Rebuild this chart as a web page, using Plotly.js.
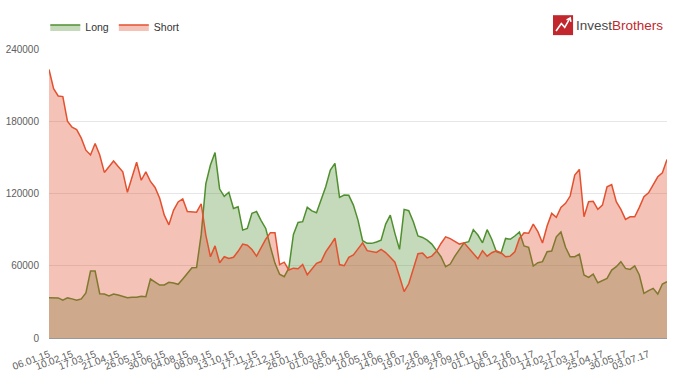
<!DOCTYPE html>
<html>
<head>
<meta charset="utf-8">
<script src="https://cdn.plot.ly/plotly-3.0.1.min.js"></script>
<style>
  html, body { margin: 0; padding: 0; background: #ffffff; }
  #chart { width: 680px; height: 382px; }
</style>
</head>
<body>
<div id="chart"></div>
<script>
// Weekly positions (index 0 = 06.01.15); every fifth week is labelled
const tickLabels = ["06.01.15","10.02.15","17.03.15","21.04.15","26.05.15","30.06.15","04.08.15",
  "08.09.15","13.10.15","17.11.15","22.12.15","26.01.16","01.03.16","05.04.16","10.05.16",
  "14.06.16","19.07.16","23.08.16","27.09.16","01.11.16","06.12.16","10.01.17","14.02.17",
  "21.03.17","25.04.17","30.05.17","03.07.17"];

const longValues = [
  33500,33300,33300,31500,33300,32500,31300,32500,37400,55600,
  55600,36800,36500,35000,36500,35700,34600,33500,33800,33800,
  34600,34300,49000,46800,44000,44000,46200,45700,44600,49000,
  53700,58400,58600,86000,128000,143600,154000,123700,117600,121000,
  107600,109000,89600,91000,103500,105000,97500,91000,75800,62000,
  53000,50900,58000,86000,96000,96600,108500,105500,104000,114500,
  125600,139400,145000,116800,118700,118500,110400,97900,80800,78600,
  78600,79700,81300,94600,102000,86900,73600,106800,105700,96600,
  84700,83500,81300,78000,73000,67500,59200,61400,68000,74000,
  79000,80000,90000,85500,79000,90000,82000,71600,70300,82700,
  82000,84700,88000,76400,75300,59800,62500,63400,71600,72200,
  84000,88000,75300,67500,67500,69700,52300,50400,53100,45900,
  47600,49500,56400,59200,63400,57800,57000,59800,52300,37100,
  39300,41200,36500,44800,46800
];

const shortValues = [
  223000,207000,201000,200500,180000,175000,173000,166000,156000,152000,
  161500,152000,137500,142000,147000,142500,138000,121000,134000,146000,
  131000,138000,130000,125000,116000,102000,94000,106000,113000,115500,
  105000,105000,104500,111500,85500,67500,76500,62500,67500,66000,
  67000,72000,78000,77000,73500,68000,75000,82000,87500,87500,
  61000,63000,56500,58000,57500,61000,52500,57500,62000,63500,
  71500,77000,83000,61000,60000,67000,69000,74000,79000,72500,
  72000,71000,73500,71000,67000,63000,51000,38500,45000,57000,
  70000,70500,66500,68000,72000,78500,84000,82500,80000,78000,
  79000,74500,70800,65800,72500,68000,70800,72500,70800,67500,
  68000,71600,82700,87400,87000,94600,88300,78900,93000,103500,
  100200,108500,111800,117900,135300,140000,100700,113200,113500,106800,
  110400,125600,127500,113200,106800,98500,100700,100700,108500,117300,
  120600,127500,133900,137200,148300
];

const yTicks = [0, 60000, 120000, 180000, 240000];

const xIdx = longValues.map((_, i) => i);
const tickVals = tickLabels.map((_, i) => i * 5);

const font = "'Liberation Sans', Arial, sans-serif";

const traces = [
  {
    x: xIdx, y: longValues, name: "Long", type: "scatter", mode: "lines",
    fill: "tozeroy", fillcolor: "rgba(80,140,50,0.33)",
    line: { color: "#4f8f2f", width: 1.5 }, hoverinfo: "skip"
  },
  {
    x: xIdx, y: shortValues, name: "Short", type: "scatter", mode: "lines",
    fill: "tozeroy", fillcolor: "rgba(226,76,48,0.34)",
    line: { color: "#e4512f", width: 1.5 }, hoverinfo: "skip"
  }
];

const layout = {
  width: 680, height: 382,
  margin: { l: 49, r: 13, t: 49, b: 44, pad: 0 },
  paper_bgcolor: "#ffffff", plot_bgcolor: "#ffffff",
  font: { family: font, size: 10, color: "#606060" },
  showlegend: true,
  legend: {
    orientation: "h", x: -0.006, xanchor: "left", y: 1.076, yanchor: "middle",
    font: { family: font, size: 10.5, color: "#333333" },
    itemwidth: 30, tracegroupgap: 0, bgcolor: "rgba(0,0,0,0)"
  },
  xaxis: {
    range: [0, xIdx.length - 1], showgrid: false, zeroline: false,
    showline: true, linecolor: "#9a9a9a", linewidth: 1,
    tickmode: "array", tickvals: tickVals, ticktext: tickLabels,
    tickangle: -20, ticks: "", ticklabelstandoff: 6,
    tickfont: { family: font, size: 10, color: "#606060" }
  },
  yaxis: {
    range: [0, 240000], showgrid: true, gridcolor: "#e6e6e6", gridwidth: 1,
    zeroline: false, showline: false,
    tickmode: "array", tickvals: yTicks, ticktext: yTicks.map(String),
    ticks: "", ticklabelstandoff: 9,
    tickfont: { family: font, size: 10, color: "#606060" }
  },
  shapes: [
    { type: "rect", xref: "paper", yref: "paper", x0: 0.8155, x1: 0.848, y0: 1.048, y1: 1.117,
      fillcolor: "#c1272d", line: { width: 0 } },
    { type: "path", xref: "paper", yref: "paper",
      path: "M 0.8205 1.062 L 0.829 1.088 L 0.8345 1.075 L 0.8425 1.105",
      line: { color: "#ffffff", width: 1.6 } },
    { type: "path", xref: "paper", yref: "paper",
      path: "M 0.8375 1.101 L 0.8435 1.108 L 0.8445 1.094",
      line: { color: "#ffffff", width: 1.4 } }
  ],
  annotations: [
    { xref: "paper", yref: "paper", x: 0.849, y: 1.082, xanchor: "left", yanchor: "middle",
      showarrow: false,
      text: "<span style='color:#4a4a4a'>Invest</span><span style='color:#c1272d'>Brothers</span>",
      font: { family: font, size: 13.5 } }
  ]
};

Plotly.newPlot("chart", traces, layout, { displayModeBar: false, staticPlot: true });
</script>
</body>
</html>
